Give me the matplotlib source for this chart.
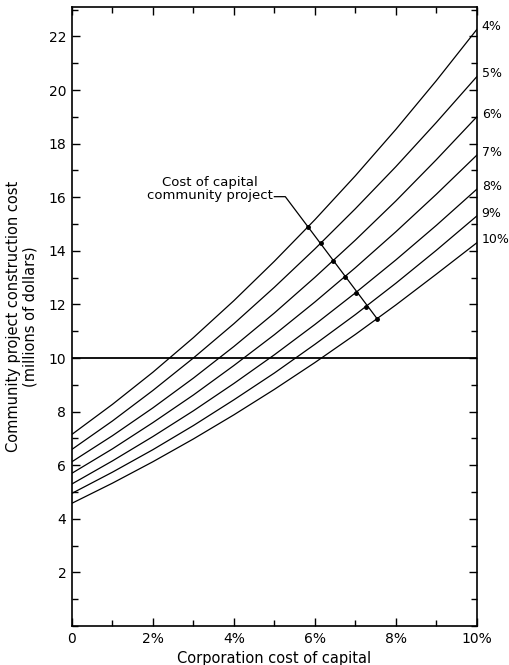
import matplotlib
matplotlib.use("agg")
import matplotlib.pyplot as plt
from matplotlib.ticker import MultipleLocator

# corporation cost of capital (%) and community project cost (millions) per community rate
rate_labels = ["4%", "5%", "6%", "7%", "8%", "9%", "10%"]
corp_rate = [0, 1, 2, 3, 4, 5, 6, 7, 8, 9, 10]
c4 = [7.15, 8.27, 9.47, 10.76, 12.14, 13.61, 15.16, 16.80, 18.53, 20.35, 22.26]
c5 = [6.59, 7.65, 8.79, 10.00, 11.28, 12.64, 14.07, 15.57, 17.14, 18.79, 20.50]
c6 = [6.13, 7.10, 8.14, 9.25, 10.43, 11.68, 13.01, 14.40, 15.86, 17.40, 19.00]
c7 = [5.70, 6.61, 7.59, 8.62, 9.72, 10.87, 12.09, 13.37, 14.71, 16.11, 17.57]
c8 = [5.30, 6.16, 7.07, 8.03, 9.05, 10.12, 11.25, 12.43, 13.66, 14.95, 16.30]
c9 = [4.95, 5.74, 6.58, 7.48, 8.44, 9.44, 10.51, 11.62, 12.79, 14.02, 15.30]
c10 = [4.58, 5.33, 6.13, 6.98, 7.88, 8.83, 9.83, 10.88, 11.98, 13.13, 14.30]
curves = [c4, c5, c6, c7, c8, c9, c10]

# marked points where the label leader crosses each curve
dot_x = [5.83, 6.15, 6.45, 6.74, 7.01, 7.26, 7.54]
dot_y = [14.89, 14.28, 13.63, 13.03, 12.44, 11.92, 11.46]

baseline = 10
xticks = [0, 2, 4, 6, 8, 10]
xticklabels = ["0", "2%", "4%", "6%", "8%", "10%"]
yticks = [2, 4, 6, 8, 10, 12, 14, 16, 18, 20, 22]

fig = plt.figure(figsize=(5.1, 6.65), dpi=100)
ax = fig.add_axes([0.141, 0.0586, 0.794, 0.931])

for ys, lab in zip(curves, rate_labels):
    ax.plot(corp_rate, ys, color="black", lw=0.9)
    ax.annotate(lab, xy=(corp_rate[-1], ys[-1]), xytext=(3.5, 2), textcoords="offset points",
                ha="left", va="center", fontsize=9, annotation_clip=False)

ax.axhline(baseline, color="black", lw=1.3)

# leader for the label: short horizontal, then straight down through the dots
ax.plot([5.0, 5.27, dot_x[-1]], [16.02, 16.02, dot_y[-1]], color="black", lw=0.9)
ax.plot(dot_x, dot_y, "o", color="black", ms=2.5)
ax.text(3.41, 16.29, "Cost of capital\ncommunity project", ha="center", va="center",
        fontsize=9.5, linespacing=1.0)

ax.set_xlim(0, 10)
ax.set_ylim(0, 23.1)
ax.set_xticks(xticks)
ax.set_xticklabels(xticklabels, fontsize=10)
ax.set_yticks(yticks)
ax.set_yticklabels([str(v) for v in yticks], fontsize=10)
ax.xaxis.set_minor_locator(MultipleLocator(1))
ax.yaxis.set_minor_locator(MultipleLocator(1))
ax.tick_params(which="both", direction="in", top=True, right=True, width=1.0)
ax.tick_params(which="major", length=6, pad=4)
ax.tick_params(which="minor", length=4)
for s in ax.spines.values():
    s.set_linewidth(1.2)

ax.set_xlabel("Corporation cost of capital", fontsize=10.5, labelpad=4)
ax.set_ylabel("Community project construction cost\n(millions of dollars)", fontsize=10.5,
              labelpad=8, linespacing=1.1)

fig.savefig("out.png", dpi=100)
plt.close(fig)
